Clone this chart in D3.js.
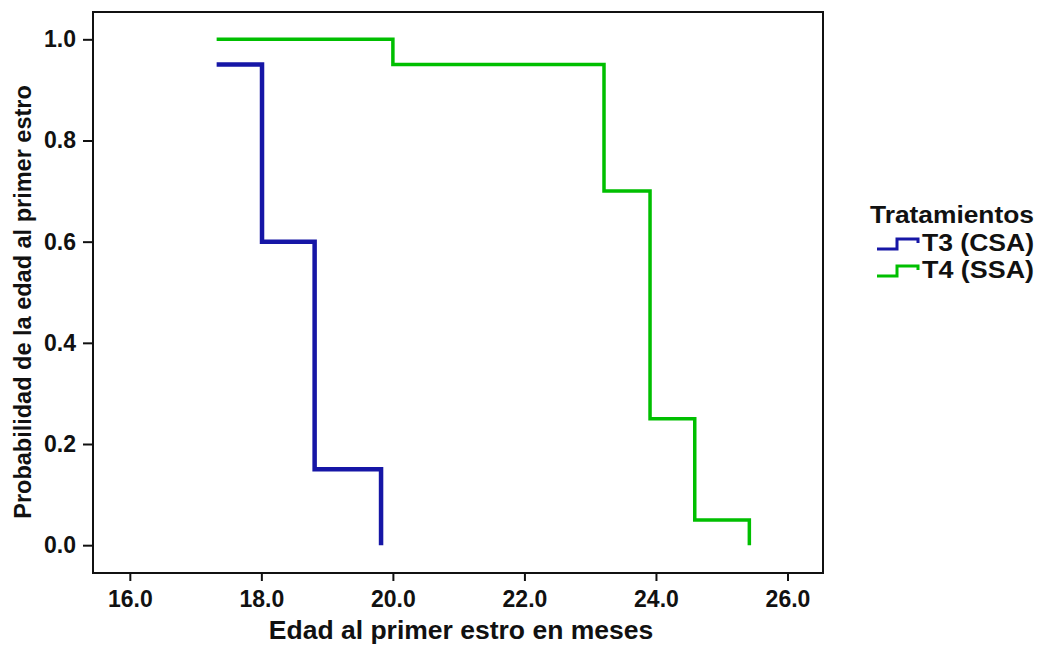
<!DOCTYPE html>
<html>
<head>
<meta charset="utf-8">
<script src="https://cdn.jsdelivr.net/npm/d3@7"></script>
<style>
  body { margin: 0; background: #fff; }
  text { font-family: "Liberation Sans", Arial, sans-serif; fill: #111; }
</style>
</head>
<body>
<div id="canvas"></div>
<script>
// datos
var t3Edad = [17.32, 18.01, 18.81, 19.82];
var t3Prob = [0.95, 0.60, 0.15, 0.0];
var t4Edad = [17.32, 20.0, 23.21, 23.91, 24.59, 25.42];
var t4Prob = [1.0, 0.95, 0.70, 0.25, 0.05, 0.0];
var xTicks = [16, 18, 20, 22, 24, 26];
var yTicks = [0, 0.2, 0.4, 0.6, 0.8, 1.0];
var series = [
  {name: "T3 (CSA)", color: "#1616a6", width: 4.5, x: t3Edad, y: t3Prob},
  {name: "T4 (SSA)", color: "#00bf00", width: 3.5, x: t4Edad, y: t4Prob}
];

var W = 1041, H = 646;
var pLeft = 93, pTop = 12, pRight = 823, pBottom = 573;

var svg = d3.select("#canvas").append("svg").attr("width", W).attr("height", H);

var x = d3.scaleLinear().domain([15.44, 26.54]).range([pLeft, pRight]);
var y = d3.scaleLinear().domain([-0.055, 1.054]).range([pBottom, pTop]);

// marco
svg.append("rect")
    .attr("x", pLeft).attr("y", pTop)
    .attr("width", pRight - pLeft).attr("height", pBottom - pTop)
    .style("fill", "none").style("stroke", "#111").style("stroke-width", 2);

var xAxis = svg.append("g")
    .attr("transform", "translate(0," + pBottom + ")")
    .call(d3.axisBottom(x).tickValues(xTicks).tickFormat(d3.format(".1f")).tickSize(8).tickPadding(4));
var yAxis = svg.append("g")
    .attr("transform", "translate(" + pLeft + ",0)")
    .call(d3.axisLeft(y).tickValues(yTicks).tickFormat(d3.format(".1f")).tickSize(10).tickPadding(7));

[xAxis, yAxis].forEach(function(a) {
  a.select(".domain").remove();
  a.selectAll("line").style("stroke", "#111").style("stroke-width", 2);
  a.selectAll("text").style("font-size", "23px").style("font-weight", "bold").style("fill", "#111")
    .style("font-family", "'Liberation Sans', Arial, sans-serif");
});
xAxis.selectAll("text").attr("dy", "0.95em");

var line = d3.line().curve(d3.curveStepAfter);

series.forEach(function(s) {
  var pts = s.x.map(function(v, i) { return [x(v), y(s.y[i])]; });
  svg.append("path")
      .attr("d", line(pts))
      .style("fill", "none")
      .style("stroke", s.color)
      .style("stroke-width", s.width);
});

// titulos de ejes
svg.append("text")
    .attr("x", 461).attr("y", 639)
    .attr("text-anchor", "middle")
    .style("font-size", "26.5px").style("font-weight", "bold")
    .text("Edad al primer estro en meses");

svg.append("text")
    .attr("transform", "translate(31,302) rotate(-90)")
    .attr("text-anchor", "middle")
    .style("font-size", "23.5px").style("font-weight", "bold")
    .text("Probabilidad de la edad al primer estro");

// leyenda
svg.append("text")
    .attr("x", 870).attr("y", 223)
    .attr("textLength", 164).attr("lengthAdjust", "spacingAndGlyphs")
    .style("font-size", "23.5px").style("font-weight", "bold")
    .text("Tratamientos");

var icon = d3.line();
series.forEach(function(s, i) {
  var ly = 249 + i * 27;
  svg.append("path")
      .attr("d", icon([[877, ly], [897, ly], [897, ly - 10], [918, ly - 10], [918, ly - 6]]))
      .style("fill", "none").style("stroke", s.color).style("stroke-width", 3);
  svg.append("text")
      .attr("x", 922).attr("y", ly + 2)
      .attr("textLength", 112).attr("lengthAdjust", "spacingAndGlyphs")
      .style("font-size", "23.5px").style("font-weight", "bold")
      .text(s.name);
});
</script>
</body>
</html>
